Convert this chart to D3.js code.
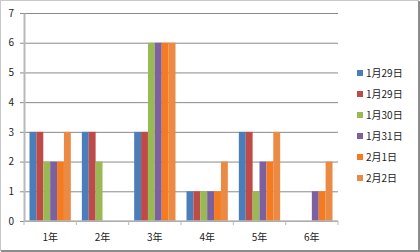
<!DOCTYPE html>
<html>
<head>
<meta charset="utf-8">
<script src="https://cdn.jsdelivr.net/npm/d3@7"></script>
<style>
  body { margin: 0; background: #fff; }
  svg text { font-family: "Noto Sans CJK JP", "DejaVu Sans", sans-serif; font-size: 10px; fill: #222; }
</style>
</head>
<body>
<div id="chart"></div>
<script>
var grades = ["1年", "2年", "3年", "4年", "5年", "6年"];
var dates = ["1月29日", "1月29日", "1月30日", "1月31日", "2月1日", "2月2日"];
var colors = ["#4a7ebb", "#be4b48", "#98b954", "#7d60a0", "#f47b20", "#eb8a45"];
// values per grade, one per date
var values = [
  [3, 3, 2, 2, 2, 3],
  [3, 3, 2, 0, 0, 0],
  [3, 3, 6, 6, 6, 6],
  [1, 1, 1, 1, 1, 2],
  [3, 3, 1, 2, 2, 3],
  [0, 0, 0, 1, 1, 2]
];
var yTicks = [0, 1, 2, 3, 4, 5, 6, 7];

var W = 420, H = 252;
var margin = {top: 13, right: 82, bottom: 31, left: 24};
var width = W - margin.left - margin.right;
var height = H - margin.top - margin.bottom;

var svg = d3.select("#chart").append("svg")
    .attr("width", W)
    .attr("height", H);

// frame
svg.append("rect")
    .attr("x", 0.5).attr("y", 0.5)
    .attr("width", W - 2).attr("height", H - 2)
    .attr("fill", "none").attr("stroke", "#c8c8c8");
svg.append("path")
    .attr("d", "M" + (W - 1) + ",1V" + (H - 1) + "H1")
    .attr("fill", "none").attr("stroke", "#8c8c8c").attr("stroke-width", 2);

var g = svg.append("g")
    .attr("transform", "translate(" + margin.left + "," + margin.top + ")");

var x0 = d3.scaleBand()
    .domain(grades)
    .range([0, width])
    .padding(0);

var x1 = d3.scaleBand()
    .domain(d3.range(dates.length))
    .range([0, x0.bandwidth()])
    .paddingInner(0)
    .paddingOuter(0.8);

var y = d3.scaleLinear()
    .domain([0, 7])
    .range([height, 0]);

// gridlines
g.append("g")
    .attr("class", "grid")
    .call(d3.axisLeft(y).tickValues(yTicks).tickSize(-width).tickFormat(""))
    .call(function(s) {
      s.select(".domain").remove();
      s.selectAll("line").attr("stroke", "#8a8a8a").attr("x1", -4);
    });

// bars
var groups = g.selectAll(".grp")
    .data(values)
  .enter().append("g")
    .attr("class", "grp")
    .attr("transform", function(d, i) { return "translate(" + x0(grades[i]) + ",0)"; });

groups.selectAll("rect")
    .data(function(d) { return d; })
  .enter().append("rect")
    .attr("x", function(d, j) { return x1(j); })
    .attr("y", function(d) { return y(d); })
    .attr("width", x1.bandwidth())
    .attr("height", function(d) { return height - y(d); })
    .attr("fill", function(d, j) { return colors[j]; });

// y axis
g.append("g")
    .call(d3.axisLeft(y).tickValues(yTicks).tickFormat(d3.format("d")).tickSize(0).tickPadding(10))
    .call(function(s) {
      s.select(".domain").attr("stroke", "#b8b8b8").attr("stroke-width", 2);
      s.selectAll("text").attr("font-size", "10px");
    });

// x axis
var xAxis = g.append("g")
    .attr("transform", "translate(0," + height + ")");
xAxis.append("line")
    .attr("x1", 0).attr("x2", width)
    .attr("stroke", "#b8b8b8").attr("stroke-width", 1.5);
xAxis.selectAll(".tk")
    .data(grades.concat([null]))
  .enter().append("line")
    .attr("x1", function(d, i) { return i < grades.length ? x0(d) : width; })
    .attr("x2", function(d, i) { return i < grades.length ? x0(d) : width; })
    .attr("y1", 0).attr("y2", 4)
    .attr("stroke", "#b8b8b8");
xAxis.selectAll(".lbl")
    .data(grades)
  .enter().append("text")
    .attr("x", function(d) { return x0(d) + x0.bandwidth() / 2; })
    .attr("y", 20)
    .attr("text-anchor", "middle")
    .text(function(d) { return d; });

// legend
var legend = svg.append("g")
    .attr("transform", "translate(357,73)");
var items = legend.selectAll(".item")
    .data(dates)
  .enter().append("g")
    .attr("transform", function(d, i) { return "translate(0," + (i * 21) + ")"; });
items.append("rect")
    .attr("x", 0).attr("y", -3)
    .attr("width", 6).attr("height", 6)
    .attr("fill", function(d, i) { return colors[i]; });
items.append("text")
    .attr("x", 9).attr("y", 0)
    .attr("dy", "0.35em")
    .text(function(d) { return d; });
</script>
</body>
</html>
